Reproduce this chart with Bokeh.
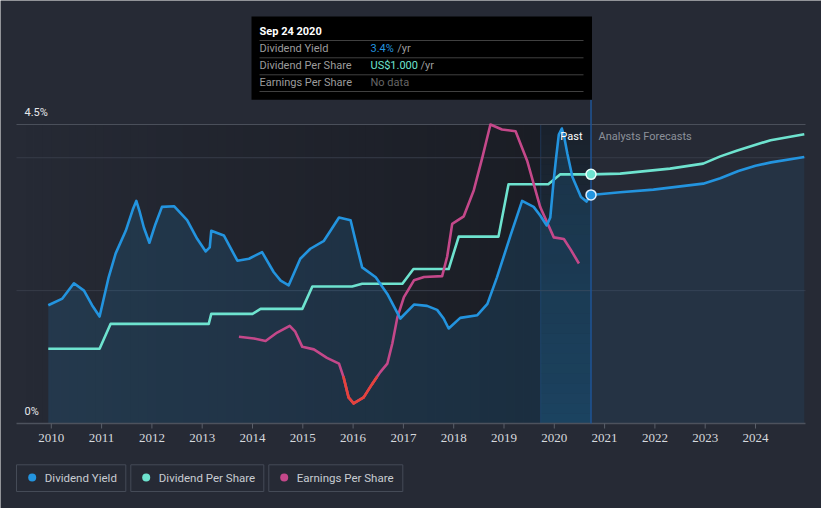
import numpy as np
from bokeh.plotting import figure
from bokeh.models import Range1d
from bokeh.core.properties import value
from bokeh.embed import file_html
from bokeh.resources import INLINE

# ---------------- DATA ----------------
YIELD_DATES = [2009.94, 2010.22, 2010.45, 2010.65, 2010.81, 2010.96, 2011.14, 2011.28,
               2011.48, 2011.62, 2011.69, 2011.76, 2011.84, 2011.95, 2012.07, 2012.20,
               2012.44, 2012.70, 2012.90, 2013.07, 2013.15, 2013.18, 2013.43, 2013.70,
               2013.93, 2014.19, 2014.42, 2014.56, 2014.72, 2014.95, 2015.15, 2015.42,
               2015.55, 2015.72, 2015.95, 2016.08, 2016.18, 2016.45, 2016.68, 2016.94,
               2017.21, 2017.47, 2017.67, 2017.80, 2017.90, 2018.13, 2018.47, 2018.67,
               2018.86, 2019.13, 2019.36, 2019.59, 2019.72, 2019.85, 2019.92, 2019.98,
               2020.03, 2020.09, 2020.15, 2020.20, 2020.26, 2020.36, 2020.53, 2020.64,
               2020.73]
YIELD_PCT = [1.78, 1.88, 2.11, 2.00, 1.78, 1.61, 2.20, 2.56,
             2.90, 3.22, 3.35, 3.18, 2.95, 2.72, 3.00, 3.26,
             3.27, 3.06, 2.78, 2.59, 2.65, 2.90, 2.83, 2.45,
             2.48, 2.58, 2.28, 2.15, 2.08, 2.48, 2.63, 2.75,
             2.90, 3.10, 3.06, 2.65, 2.35, 2.20, 1.95, 1.58,
             1.79, 1.77, 1.71, 1.58, 1.43, 1.59, 1.63, 1.80,
             2.20, 2.83, 3.35, 3.26, 3.13, 2.98, 3.10, 3.60,
             3.96, 4.35, 4.44, 4.30, 4.06, 3.71, 3.41, 3.34,
             3.44]

FORECAST_YIELD_DATES = [2020.73, 2021.31, 2021.97, 2022.96, 2023.30, 2023.66, 2024.00, 2024.31, 2024.97]
FORECAST_YIELD_PCT = [3.44, 3.48, 3.52, 3.61, 3.69, 3.80, 3.88, 3.93, 4.01]

DPS_DATES = [2009.94, 2010.96, 2011.18, 2013.13, 2013.18, 2014.00, 2014.16, 2014.99,
             2015.19, 2015.98, 2016.18, 2016.98, 2017.20, 2017.90, 2018.10, 2018.89,
             2019.09, 2019.88, 2020.12, 2020.73]
DPS_USD = [0.30, 0.30, 0.40, 0.40, 0.44, 0.44, 0.46, 0.46,
           0.55, 0.55, 0.561, 0.561, 0.62, 0.62, 0.75, 0.75,
           0.96, 0.96, 1.00, 1.00]

FORECAST_DPS_DATES = [2020.73, 2021.31, 2022.30, 2022.96, 2023.30, 2023.64, 2024.30, 2024.97]
FORECAST_DPS_USD = [1.000, 1.003, 1.023, 1.043, 1.072, 1.096, 1.137, 1.161]

EPS_DATES = [2013.73, 2014.03, 2014.26, 2014.49, 2014.74, 2014.85, 2014.99, 2015.22,
             2015.48, 2015.72, 2015.81, 2015.91, 2016.01, 2016.21, 2016.38, 2016.47,
             2016.54, 2016.68, 2016.78, 2016.88, 2017.01, 2017.21, 2017.41, 2017.77,
             2017.87, 2017.97, 2018.20, 2018.40, 2018.57, 2018.73, 2018.96, 2019.23,
             2019.46, 2019.72, 2019.99, 2020.19, 2020.32, 2020.49]
EPS_USD = [1.03, 1.01, 0.98, 1.08, 1.16, 1.09, 0.91, 0.88,
           0.78, 0.71, 0.55, 0.31, 0.24, 0.31, 0.47, 0.55,
           0.61, 0.71, 0.95, 1.26, 1.50, 1.70, 1.74, 1.75,
           1.98, 2.37, 2.46, 2.77, 3.16, 3.55, 3.49, 3.47,
           3.12, 2.57, 2.21, 2.19, 2.07, 1.90]

TICK_YEARS = list(range(2010, 2025))
Y_TICK_VALUES = [4.5, 0.0]
Y_TICK_LABELS = ["4.5%", "0%"]
GRID_PCT = [2.0, 4.0]

NOW = 2020.73              # Sep 24 2020
LAST_YEAR_START = 2019.73  # highlighted last twelve months
TOOLTIP_DATE = "Sep 24 2020"
TOOLTIP_ROWS = ["Dividend Yield", "Dividend Per Share", "Earnings Per Share"]
TOOLTIP_VALUES = ["3.4%", "US$1.000", "No data"]
TOOLTIP_SUFFIX = ["/yr", "/yr"]
LEGEND_LABELS = ["Dividend Yield", "Dividend Per Share", "Earnings Per Share"]

# ---------------- STYLE ----------------
W, H = 821, 508
BG = "#262a35"
BLUE = "#2394df"
TEAL = "#6ee3cf"
MAGENTA = "#c4488a"
RED = "#e5433b"
FONT = "Roboto"

# pixel geometry of the plot
PX_YEAR = 50.3          # pixels per year
PX_2010 = 50.8          # x pixel of 2010
PX_ZERO = 423.0         # y pixel of 0
PX_TOP = 124.0          # y pixel of the top line (4.5%)
SPAN = PX_ZERO - PX_TOP
YIELD_TOP = 4.5
DPS_TOP = 1.2
EPS_TOP = 3.55

X0 = 2010 - PX_2010 / PX_YEAR


def xd(px):
    return X0 + px / PX_YEAR


def yd(py, top=YIELD_TOP):
    return top * (PX_ZERO - py) / SPAN


def rng(top):
    return Range1d(yd(H, top), yd(0, top))


p = figure(width=W, height=H, x_range=Range1d(xd(0), xd(W)), y_range=rng(YIELD_TOP),
           output_backend="svg", toolbar_location=None, min_border=0,
           x_axis_type=None, y_axis_type=None)
p.extra_y_ranges = {"dps": rng(DPS_TOP), "eps": rng(EPS_TOP)}
p.grid.visible = False
p.outline_line_color = None
p.background_fill_color = BG
p.border_fill_color = BG

LEFT, RIGHT = xd(16), xd(805)

# past region: horizontal darkening gradient
n = 60
edges = np.linspace(LEFT, LAST_YEAR_START, n + 1)
p.quad(left=edges[:-1], right=edges[1:], bottom=0, top=YIELD_TOP,
       fill_color="black", fill_alpha=list(np.linspace(0.0, 0.3, n)), line_color=None)
# last twelve months band
p.quad(left=[LAST_YEAR_START], right=[NOW], bottom=0, top=YIELD_TOP,
       fill_color="black", fill_alpha=0.3, line_color=None)
m = 30
yedges = np.linspace(0, YIELD_TOP, m + 1)
p.quad(left=LAST_YEAR_START, right=NOW, bottom=yedges[:-1], top=yedges[1:],
       fill_color=BLUE, fill_alpha=list(np.linspace(0.2, 0.04, m)), line_color=None)
p.segment(x0=[LAST_YEAR_START], y0=[0], x1=[LAST_YEAR_START], y1=[YIELD_TOP],
          line_color="#22406a", line_width=1, line_alpha=0.7)

# grid lines
p.segment(x0=[LEFT] * len(GRID_PCT), y0=GRID_PCT, x1=[RIGHT] * len(GRID_PCT), y1=GRID_PCT,
          line_color="#373c48", line_width=1)
p.segment(x0=[LEFT], y0=[YIELD_TOP], x1=[RIGHT], y1=[YIELD_TOP], line_color="#4a4f5a", line_width=1)

# yield area
p.varea(x=YIELD_DATES, y1=[0] * len(YIELD_DATES), y2=YIELD_PCT, fill_color=BLUE, fill_alpha=0.15)
p.varea(x=FORECAST_YIELD_DATES, y1=[0] * len(FORECAST_YIELD_DATES), y2=FORECAST_YIELD_PCT,
        fill_color=BLUE, fill_alpha=0.09)

# axis line and ticks
p.segment(x0=[LEFT], y0=[0], x1=[RIGHT], y1=[0], line_color="#4d525d", line_width=1.5)
p.segment(x0=TICK_YEARS, y0=[0] * len(TICK_YEARS), x1=TICK_YEARS,
          y1=[yd(PX_ZERO + 5)] * len(TICK_YEARS), line_color="#5a5f6a", line_width=1)
p.text(x=TICK_YEARS, y=[yd(437)] * len(TICK_YEARS), text=[str(t) for t in TICK_YEARS],
       text_font=value("Liberation Sans Narrow"), text_font_size="13px", text_color="#d6d9de",
       text_align="center", text_baseline="middle")
p.text(x=[xd(24)] * 2, y=[yd(112), yd(411)], text=Y_TICK_LABELS,
       text_font=value(FONT), text_font_size="11px", text_color="#e6e8eb",
       text_align="left", text_baseline="middle")

# now line
p.segment(x0=[NOW], y0=[0], x1=[NOW], y1=[yd(99)], line_color="#1f5496", line_width=1.5)

# DPS
p.line(DPS_DATES, DPS_USD, y_range_name="dps", line_color=TEAL, line_width=2.6, line_join="round")
p.line(FORECAST_DPS_DATES, FORECAST_DPS_USD, y_range_name="dps", line_color=TEAL, line_width=2.6,
       line_join="round")

# EPS (red where earnings do not cover the dividend)
dps_arr = np.array(DPS_USD)
dps_dates = np.array(DPS_DATES)


def dps_at(t):
    return dps_arr[np.searchsorted(dps_dates, t, side="right") - 1]


p.line(EPS_DATES, EPS_USD, y_range_name="eps", line_color=MAGENTA, line_width=2.6, line_join="round")
rx, ry = [], []
for i in range(len(EPS_DATES) - 1):
    if EPS_USD[i] <= dps_at(EPS_DATES[i]) and EPS_USD[i + 1] <= dps_at(EPS_DATES[i + 1]):
        rx.append([EPS_DATES[i], EPS_DATES[i + 1]])
        ry.append([EPS_USD[i], EPS_USD[i + 1]])
if rx:
    p.multi_line(rx, ry, y_range_name="eps", line_color=RED, line_width=2.6, line_cap="round")

# yield line
p.line(YIELD_DATES, YIELD_PCT, line_color=BLUE, line_width=2.6, line_join="round")
p.line(FORECAST_YIELD_DATES, FORECAST_YIELD_PCT, line_color=BLUE, line_width=2.6, line_join="round")

# markers at now
p.scatter([YIELD_DATES[-1]], [YIELD_PCT[-1]], size=10, fill_color=BLUE, line_color="#dfefff", line_width=1.5)
p.scatter([DPS_DATES[-1]], [DPS_USD[-1]], y_range_name="dps", size=10, fill_color=TEAL,
          line_color="#eafffa", line_width=1.5)

# Past / Analysts Forecasts labels
p.text(x=[xd(582)], y=[yd(136)], text=["Past"], text_font=value(FONT), text_font_size="11px",
       text_color="#ffffff", text_align="right", text_baseline="middle")
p.text(x=[xd(598)], y=[yd(136)], text=["Analysts Forecasts"], text_font=value(FONT),
       text_font_size="11px", text_color="#8c919a", text_align="left", text_baseline="middle")

# tooltip
p.quad(left=[xd(251)], right=[xd(591.5)], top=[yd(16)], bottom=[yd(99.3)],
       fill_color="#000000", line_color=None)
sep_y = [yd(v) for v in (40, 57.3, 74.3, 91)]
p.segment(x0=[xd(259)] * 4, y0=sep_y, x1=[xd(583)] * 4, y1=sep_y, line_color="#404040", line_width=1)
p.text(x=[xd(259)], y=[yd(31)], text=[TOOLTIP_DATE], text_font=value(FONT), text_font_size="11px",
       text_font_style="bold", text_color="#ffffff", text_baseline="middle")
row_y = [yd(v) for v in (48.3, 65, 81.7)]
p.text(x=[xd(259)] * 3, y=row_y, text=TOOLTIP_ROWS, text_font=value(FONT), text_font_size="11px",
       text_color="#9c9c9c", text_baseline="middle")
p.text(x=[xd(370)] * 3, y=row_y, text=TOOLTIP_VALUES, text_font=value(FONT), text_font_size="11px",
       text_color=[BLUE, TEAL, "#666666"], text_baseline="middle")
p.text(x=[xd(396.7), xd(420)], y=row_y[:2], text=TOOLTIP_SUFFIX, text_font=value(FONT),
       text_font_size="11px", text_color="#9c9c9c", text_baseline="middle")

# legend
box_l = [16, 130.3, 268.3]
box_r = [125.3, 263.3, 402.3]
p.quad(left=[xd(v) for v in box_l], right=[xd(v) for v in box_r],
       top=[yd(464.3)] * 3, bottom=[yd(491)] * 3, fill_color=None, line_color="#454b57", line_width=1)
p.scatter([xd(v) for v in (31.7, 145.7, 283.7)], [yd(477)] * 3, size=8,
          fill_color=[BLUE, TEAL, MAGENTA], line_color=None)
p.text(x=[xd(v) for v in (44.3, 158.3, 296.3)], y=[yd(477.5)] * 3, text=LEGEND_LABELS,
       text_font=value(FONT), text_font_size="11.5px", text_color="#c8ccd2", text_baseline="middle")

open("out.html", "w").write(file_html(p, INLINE))
